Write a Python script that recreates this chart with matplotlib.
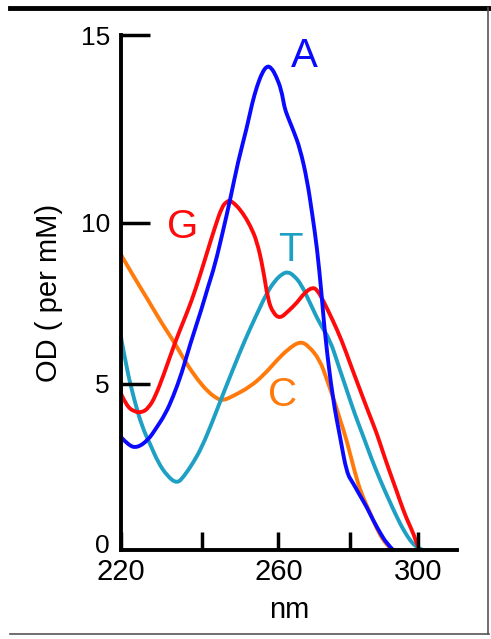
"""UV absorption spectra of the four nucleotides (A, G, T, C)."""
import matplotlib
matplotlib.use("Agg")
import matplotlib.pyplot as plt
from matplotlib.lines import Line2D
from matplotlib.path import Path
from matplotlib.patches import PathPatch

# wavelength (nm) / OD (per mM) pairs
a_nm = [220.0, 222.0, 224.3, 227.3, 229.5, 231.9, 234.0, 236.4, 238.5, 241.8, 243.4, 245.3,
        247.5, 249.4, 251.5, 253.9, 255.3, 256.6, 258.0, 259.3, 260.5, 261.8, 263.2, 264.0,
        264.8, 266.5, 268.2, 270.1, 271.5, 272.8, 274.0, 275.0, 277.1, 279.0, 280.8, 282.5,
        284.3, 286.2, 288.0, 289.8, 291.5, 293.3]
a_od = [3.29, 3.05, 2.97, 3.2, 3.55, 3.95, 4.45, 5.16, 5.95, 7.05, 7.65, 8.3,
        9.3, 10.2, 11.3, 12.3, 13.0, 13.5, 13.9, 14.1, 14.05, 13.8, 13.4, 12.9,
        12.65, 12.2, 11.7, 10.8, 9.8, 8.8, 7.5, 6.2, 4.37, 3.3, 2.24, 1.95,
        1.6, 1.25, 0.85, 0.5, 0.2, 0.0]

g_nm = [220.0, 221.5, 223.5, 225.7, 227.5, 229.2, 231.5, 234.5, 236.8, 239.1, 241.3, 243.4,
        245.3, 247.2, 248.5, 249.4, 251.0, 252.9, 254.8, 256.6, 258.2, 259.6, 261.0, 262.8,
        265.0, 267.4, 269.5, 271.7, 273.0, 274.4, 277.0, 279.4, 282.0, 284.4, 286.7, 288.9,
        290.7, 292.5, 294.3, 296.0, 297.4, 298.7, 300.0]
g_od = [4.55, 4.2, 4.03, 4.0, 4.15, 4.46, 5.1, 6.03, 6.65, 7.28, 8.0, 8.74,
        9.4, 10.0, 10.15, 10.18, 10.05, 9.8, 9.45, 9.0, 8.24, 7.28, 6.9, 6.74,
        6.95, 7.2, 7.5, 7.66, 7.55, 7.28, 6.7, 6.12, 5.35, 4.66, 4.0, 3.4,
        2.8, 2.24, 1.7, 1.17, 0.8, 0.5, 0.1]

t_nm = [220.0, 221.5, 223.5, 225.7, 228.0, 230.0, 232.5, 235.1, 237.0, 239.5, 241.8, 244.5,
        247.2, 250.3, 253.4, 256.5, 259.3, 261.5, 263.5, 265.0, 266.5, 268.5, 270.9, 273.5,
        276.3, 278.5, 280.8, 283.0, 285.3, 287.5, 289.8, 292.0, 294.3, 296.0, 297.8, 299.2,
        300.5, 301.3]
t_od = [6.2, 5.3, 4.4, 3.58, 3.05, 2.55, 2.15, 1.93, 2.15, 2.55, 3.0, 3.7,
        4.46, 5.3, 6.12, 6.85, 7.49, 7.85, 8.05, 8.1, 8.0, 7.75, 7.2, 6.6,
        6.12, 5.4, 4.66, 3.95, 3.3, 2.65, 2.04, 1.5, 0.96, 0.6, 0.29, 0.12,
        0.04, 0.0]

c_nm = [220.0, 223.5, 227.3, 231.0, 234.5, 237.5, 240.7, 243.5, 246.0, 247.5, 250.5, 254.7,
        258.5, 262.0, 265.0, 268.2, 270.5, 273.6, 275.5, 277.1, 279.0, 280.8, 283.5, 285.3,
        287.1, 289.0, 290.6, 292.0, 292.9]
c_od = [8.6, 7.95, 7.28, 6.6, 6.03, 5.45, 4.95, 4.6, 4.4, 4.35, 4.5, 4.75,
        5.1, 5.53, 5.85, 6.08, 5.95, 5.53, 4.95, 4.46, 3.8, 3.2, 2.04, 1.5,
        1.08, 0.6, 0.29, 0.12, 0.0]

bases = ["A", "G", "T", "C"]
label_pos = [(269.3, 14.4), (236.7, 9.4), (265.5, 8.75), (263.6, 4.5)]

# tick marks sit where the hand-drawn axis has them
x_major = [220, 262.4, 300]
x_major_labels = ["220", "260", "300"]
x_minor = [241.7, 281.6]
y_ticks = [0.2, 4.835, 9.525, 15]
y_tick_labels = ["0", "5", "10", "15"]

colors = {"A": "#0a0aff", "G": "#ff0a0a", "T": "#1ea0c4", "C": "#ff7a0a"}


def smooth_path(xs, ys):
    # quadratic bezier through the midpoints, read points act as control points
    pts = list(zip(xs, ys))
    verts = [pts[0]]
    codes = [Path.MOVETO]
    for i in range(1, len(pts) - 1):
        mid = ((pts[i][0] + pts[i + 1][0]) / 2, (pts[i][1] + pts[i + 1][1]) / 2)
        if i == len(pts) - 2:
            mid = pts[-1]
        verts += [pts[i], mid]
        codes += [Path.CURVE3, Path.CURVE3]
    return Path(verts, codes)


def main():
    plt.rcParams.update({"font.family": "Liberation Sans"})
    fig = plt.figure(figsize=(4.91, 6.39), dpi=100)
    ax = fig.add_axes([0.2464, 0.1393, 0.6843, 0.8059])

    series = {"A": (a_nm, a_od), "G": (g_nm, g_od), "T": (t_nm, t_od), "C": (c_nm, c_od)}
    for base in ["C", "T", "G", "A"]:
        x, y = series[base]
        ax.add_patch(PathPatch(smooth_path(x, y), fill=False, edgecolor=colors[base],
                               lw=2.8, capstyle="round", joinstyle="round", clip_on=False))

    for base, (x, y) in zip(bases, label_pos):
        ax.text(x, y, base, color=colors[base], fontsize=29, ha="center", va="center")

    ax.set_xlim(220, 310.5)
    ax.set_ylim(0, 15)
    for side in ["top", "right"]:
        ax.spines[side].set_visible(False)
    for side in ["left", "bottom"]:
        ax.spines[side].set_linewidth(2.8)

    ax.set_xticks(x_major)
    ax.set_xticklabels(x_major_labels)
    ax.set_xticks(x_minor, minor=True)
    ax.set_yticks(y_ticks)
    ax.set_yticklabels(y_tick_labels)
    ax.tick_params(axis="x", which="both", direction="in", length=13, width=2.5,
                   labelsize=21, pad=6, color="black")
    ax.tick_params(axis="y", direction="in", length=21, width=2.5, labelsize=19, pad=8)
    # the "0" tick mark lies on the bottom spine, only its label shows
    ax.yaxis.get_major_ticks()[0].tick1line.set_visible(False)

    ax.set_xlabel("nm", fontsize=21, labelpad=7)
    ax.set_ylabel("OD ( per mM)", fontsize=21, labelpad=13)

    # thin frame around the picture
    fig.add_artist(Line2D([10 / 491, 489 / 491], [1 - 8 / 639, 1 - 8 / 639],
                          color="black", lw=3.5, transform=fig.transFigure))
    fig.add_artist(Line2D([488 / 491, 488 / 491], [1 - 8 / 639, 1 - 634 / 639],
                          color="#555555", lw=1.2, transform=fig.transFigure))
    fig.add_artist(Line2D([10 / 491, 489 / 491], [1 - 634 / 639, 1 - 634 / 639],
                          color="#555555", lw=1.2, transform=fig.transFigure))

    fig.savefig("out.png", dpi=100)


if __name__ == "__main__":
    main()
